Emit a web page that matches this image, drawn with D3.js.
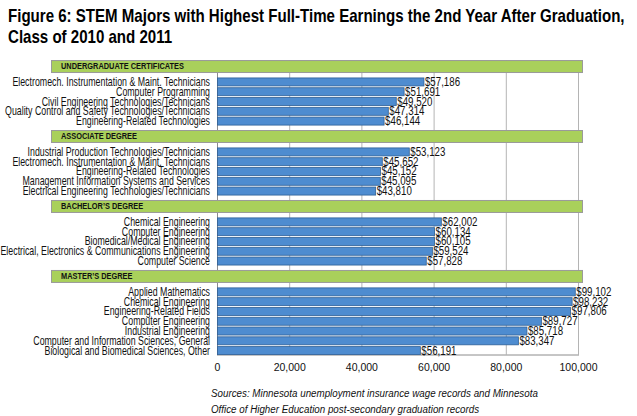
<!DOCTYPE html>
<html><head><meta charset="utf-8">
<script src="https://cdn.jsdelivr.net/npm/d3@7/dist/d3.min.js"></script>
<style>body{margin:0;background:#fff}svg{display:block}</style></head>
<body><svg id="c" width="637" height="416"></svg>
<script>
const titleLines = ["Figure 6: STEM Majors with Highest Full-Time Earnings the 2nd Year After Graduation,", "Class of 2010 and 2011"];
const groupNames = ["UNDERGRADUATE CERTIFICATES", "ASSOCIATE DEGREE", "BACHELOR\u2019S DEGREE", "MASTER\u2019S DEGREE"];
const ugCategories = ["Electromech. Instrumentation & Maint. Technicians", "Computer Programming", "Civil Engineering Technologies/Technicians", "Quality Control and Safety Technologies/Technicians", "Engineering-Related Technologies"];
const ugValues = [57186, 51691, 49520, 47314, 46144];
const assocCategories = ["Industrial Production Technologies/Technicians", "Electromech. Instrumentation & Maint. Technicians", "Engineering-Related Technologies", "Management Information Systems and Services", "Electrical Engineering Technologies/Technicians"];
const assocValues = [53123, 45652, 45152, 45095, 43810];
const bachCategories = ["Chemical Engineering", "Computer Engineering", "Biomedical/Medical Engineering", "Electrical, Electronics & Communications Engineering", "Computer Science"];
const bachValues = [62002, 60134, 60105, 59524, 57828];
const mastCategories = ["Applied Mathematics", "Chemical Engineering", "Engineering-Related Fields", "Computer Engineering", "Industrial Engineering", "Computer and Information Sciences, General", "Biological and Biomedical Sciences, Other"];
const mastValues = [99102, 98232, 97806, 89727, 85718, 83347, 56191];
const xTicks = [0, 20000, 40000, 60000, 80000, 100000];
const sourceLines = ["Sources: Minnesota unemployment insurance wage records and Minnesota", "Office of Higher Education post-secondary graduation records"];

const groups = [
  {name: groupNames[0], cats: ugCategories, vals: ugValues},
  {name: groupNames[1], cats: assocCategories, vals: assocValues},
  {name: groupNames[2], cats: bachCategories, vals: bachValues},
  {name: groupNames[3], cats: mastCategories, vals: mastValues}
];

const HEADER_UNITS = 2.15;
let u = 0; const rows = [];
groups.forEach(g => {
  rows.push({type: 'h', name: g.name, u0: u, u1: u + HEADER_UNITS}); u += HEADER_UNITS;
  g.cats.forEach((c, i) => { rows.push({type: 'b', cat: c, val: g.vals[i], u0: u, u1: u + 1}); u += 1; });
});
const y = d3.scaleLinear().domain([0, u]).range([55.5, 355]);
const x = d3.scaleLinear().domain([0, 100000]).range([217, 578]);
const svg = d3.select('#c');
const FONT = "'Liberation Sans', Arial, sans-serif";

// title
svg.append('g').selectAll('text').data(titleLines).join('text')
  .attr('transform', (d, i) => `translate(8,${22 + i * 21}) scale(0.815,1)`)
  .attr('font-family', FONT).attr('font-weight', 'bold').attr('font-size', 18.5)
  .attr('fill', '#000').text(d => d);

const plotTop = y(0) + 4.5, plotBottom = y(u) - 0.5;
// gridlines
svg.append('g').selectAll('line').data(xTicks.slice(1)).join('line')
  .attr('x1', d => x(d) + 0.5).attr('x2', d => x(d) + 0.5)
  .attr('y1', plotTop).attr('y2', plotBottom)
  .attr('stroke', '#b4b4b4').attr('stroke-width', 1);
// axes lines
svg.append('line').attr('x1', x(0) + 0.5).attr('x2', x(0) + 0.5).attr('y1', plotTop).attr('y2', plotBottom).attr('stroke', '#8c8c8c');
svg.append('line').attr('x1', x(0)).attr('x2', x(100000) + 1).attr('y1', plotBottom + 0.5).attr('y2', plotBottom + 0.5).attr('stroke', '#8c8c8c');

// headers
const hdr = svg.append('g').selectAll('g').data(rows.filter(r => r.type === 'h')).join('g');
hdr.append('rect')
  .attr('x', 51.5).attr('width', 531)
  .attr('y', d => (y(d.u0) + y(d.u1)) / 2 - 6 + 0.5).attr('height', 12)
  .attr('fill', '#a9d05b').attr('stroke', '#9a9a9a').attr('stroke-width', 1);
hdr.append('text')
  .attr('transform', d => `translate(61,${(y(d.u0) + y(d.u1)) / 2 + 3.3}) scale(0.78,1)`)
  .attr('font-family', FONT).attr('font-weight', 'bold').attr('font-size', 9.5)
  .attr('fill', '#111').text(d => d.name);

// bars
const bars = rows.filter(r => r.type === 'b');
svg.append('g').selectAll('rect').data(bars).join('rect')
  .attr('x', x(0) + 0.5).attr('width', d => x(d.val) - x(0))
  .attr('y', d => (y(d.u0) + y(d.u1)) / 2 - 4 + 0.5).attr('height', 8)
  .attr('fill', '#4e8cd0').attr('stroke', '#2e5f96').attr('stroke-width', 0.8);
// category labels
svg.append('g').selectAll('text').data(bars).join('text')
  .attr('transform', d => `translate(210,${(y(d.u0) + y(d.u1)) / 2 + 4.5}) scale(0.7,1)`)
  .attr('text-anchor', 'end').attr('font-family', FONT).attr('font-size', 12.6)
  .attr('fill', '#111').text(d => d.cat);
// value labels
const fmt = d3.format('$,');
svg.append('g').selectAll('text').data(bars).join('text')
  .attr('transform', d => `translate(${x(d.val) + 1.5},${(y(d.u0) + y(d.u1)) / 2 + 4.5}) scale(0.76,1)`)
  .attr('font-family', FONT).attr('font-size', 12.8)
  .attr('fill', '#111').text(d => fmt(d.val));

// x axis
const axis = d3.axisBottom(x).tickValues(xTicks).tickFormat(d3.format(',')).tickSize(0).tickPadding(0);
const ax = svg.append('g').attr('transform', `translate(0,${plotBottom + 16.5})`).call(axis);
ax.select('.domain').remove();
ax.selectAll('text').attr('font-family', FONT).attr('font-size', 10.5).attr('fill', '#111').attr('dy', 0);

// sources
svg.append('g').selectAll('text').data(sourceLines).join('text')
  .attr('transform', (d, i) => `translate(211,${397 + i * 16}) scale(0.89,1)`)
  .attr('font-family', FONT).attr('font-style', 'italic').attr('font-size', 11)
  .attr('fill', '#111').text(d => d);
</script></body></html>
